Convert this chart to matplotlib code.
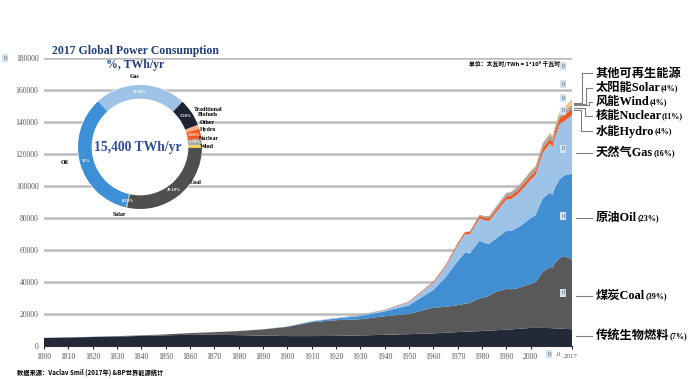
import matplotlib
matplotlib.use('Agg')
import matplotlib.pyplot as plt
import numpy as np
from matplotlib.patches import Circle

# ---- data (TWh/yr) ----
years = [1800, 1810, 1820, 1830, 1840, 1850, 1860, 1870, 1880, 1890,
         1900, 1910, 1920, 1930, 1940, 1950, 1960,
         1965, 1970, 1973, 1975, 1979, 1981, 1983, 1985,
         1990, 1992, 1995, 2000, 2002, 2005, 2008, 2009, 2010, 2012, 2014, 2017]

biofuels = [5000, 5300, 5600, 5900, 6300, 6700, 7000, 7000, 6800, 6500,
            6200, 6200, 6300, 6600, 7000, 7400, 7900,
            8300, 8700, 8900, 9000, 9300, 9500, 9600, 9800,
            10200, 10400, 10700, 11300, 11300, 11300, 11200, 11100, 11000, 10900, 10700, 10500]
coal = [97, 128, 153, 264, 356, 569, 1061, 1642, 2542, 3856,
        5728, 8656, 9833, 10125, 11586, 12603, 16114,
        16139, 16800, 17500, 17900, 20500, 20900, 21800, 23500,
        25700, 25000, 25500, 27500, 28500, 35000, 38200, 37800, 41000, 44000, 45500, 43400]
oil = [0, 0, 0, 0, 0, 0, 3, 6, 33, 89,
       181, 494, 1097, 2050, 3050, 5444, 11000,
       18500, 27500, 31900, 31000, 36000, 34000, 32500, 33000,
       36000, 36500, 38000, 41000, 42000, 46000, 46500, 45500, 47000, 49500, 50500, 53700]
gas = [0, 0, 0, 0, 0, 0, 0, 0, 0, 0,
       64, 178, 233, 553, 875, 2092, 4472,
       6500, 10000, 11500, 12000, 14000, 14200, 14300, 15800,
       19500, 20000, 21000, 24000, 25000, 28500, 30700, 30000, 31600, 34500, 34000, 36700]
hydro = [0, 0, 0, 0, 0, 0, 0, 0, 0, 0,
         0, 20, 60, 120, 190, 330, 690,
         900, 1150, 1300, 1400, 1600, 1700, 1750, 1800,
         2100, 2200, 2400, 2600, 2650, 2850, 3100, 3200, 3400, 3600, 3850, 4059]
nuclear = [0] * 17 + [30, 80, 200, 380, 700, 850, 1300, 1500,
                      2000, 2050, 2300, 2550, 2600, 2750, 2700, 2550, 2650, 2450, 2500, 2636]
wind = [0] * 28 + [31, 52, 104, 220, 275, 342, 520, 700, 1131]
solar = [0] * 28 + [1, 2, 4, 12, 20, 32, 100, 190, 444]
other = [0] * 24 + [150, 250, 280, 330, 500, 550, 650, 800, 850, 950, 1150, 1350, 1614]

area_colors = ['#222a38', '#595959', '#418fd2', '#9dc3e6', '#f15a24',
               '#a5a5a5', '#ffd24d', '#a9d18e', '#f4b183']

# donut (2017 shares)
pie_names = ['Gas', 'Traditional\nBiofuels', 'Other', 'Hydro', 'Nuclear', 'Wind', 'Coal', 'Solar', 'Oil']
pie_share = [23.8, 7.2, 1.04, 2.6, 1.7, 0.73, 28.1, 0.29, 34.54]
pie_pct = ['23.80%', '7.20%', '', '2.60%', '1.70%', '', '28.10%', '0.29%', '35%']
pie_colors = ['#9dc3e6', '#1c2433', '#f4b183', '#f15a24', '#a5a5a5', '#ffd24d', '#4f4f4f', '#a9d18e', '#3d8fd6']

right_labels = [('其他可再生能源', '', 74), ('太阳能Solar', '(4%)', 88), ('风能Wind', '(4%)', 102),
                ('核能Nuclear', '(11%)', 116), ('水能Hydro', '(4%)', 131), ('天然气Gas', '(16%)', 153),
                ('原油Oil', '(23%)', 218), ('煤炭Coal', '(39%)', 296), ('传统生物燃料', '(7%)', 336)]

W, H = 688, 379
serif = ['Liberation Serif', 'Noto Sans CJK SC', 'DejaVu Sans']
plt.rcParams['font.family'] = serif


def px(x, y):
    return x / W, 1 - y / H


fig = plt.figure(figsize=(W / 100, H / 100), dpi=100)
ax = fig.add_axes([44 / W, 1 - 346 / H, (572 - 44) / W, (346 - 58) / H])

ax.stackplot(years, biofuels, coal, oil, gas, hydro, nuclear, wind, solar, other,
             colors=area_colors, linewidth=0, zorder=3)
ax.set_xlim(1800, 2017)
ax.set_ylim(0, 180000)
ax.set_yticks(np.arange(0, 180001, 20000))
ax.set_yticklabels([str(v) for v in range(0, 180001, 20000)], fontsize=5.5, color='#595959')
ax.grid(axis='y', color='#bcbcbc', linewidth=1.8, zorder=0)
ax.set_axisbelow(True)
ticks = list(range(1800, 2001, 10)) + [2017]
ax.set_xticks(ticks)
ax.set_xticklabels([str(t) for t in ticks[:-1]] + [''], fontsize=5.5, color='#595959')
ax.tick_params(axis='y', length=0, pad=4)
ax.tick_params(axis='x', length=2, width=0.8, color='#222222', pad=3)
for s in ['top', 'right', 'left']:
    ax.spines[s].set_visible(False)
ax.spines['bottom'].set_color('#333333')
ax.spines['bottom'].set_linewidth(0.8)

box = dict(boxstyle='square,pad=0.25', fc='#cfe2f3', ec='none')
fig.text(*px(571, 356), '2017', fontsize=5, color='#595959', ha='center', va='center')
fig.text(*px(558, 354), '.0', fontsize=5, color='#595959', ha='center', va='center')
fig.text(*px(549, 354), '0', fontsize=5, color='#595959', ha='center', va='center', bbox=box)
fig.text(*px(5, 58), '0', fontsize=5, color='#595959', ha='center', va='center', bbox=box)

# unit note
fig.text(*px(560, 64), '单位：太瓦时/TWh = 1*10⁹ 千瓦时', fontsize=4.2, fontweight='bold',
         ha='right', va='center', family=['Noto Sans CJK SC', 'DejaVu Sans'])
for yy in [66, 84, 98, 111, 149, 216, 293]:
    fig.text(*px(563, yy), '0', fontsize=5, color='#595959', ha='center', va='center', bbox=box)

# right side labels
fig.canvas.draw()
for (cn, pct, yy) in right_labels:
    t = fig.text(*px(596, yy), cn, fontsize=8.8, fontweight='bold', ha='left', va='center')
    if pct:
        bb = t.get_window_extent(renderer=fig.canvas.get_renderer())
        fig.text(bb.x1 / W, 1 - yy / H, pct, fontsize=5.8, fontweight='bold', ha='left', va='center')

lc = '#7f7f7f'
for yy in [153, 218, 296, 336]:
    fig.add_artist(plt.Line2D([px(576, 0)[0], px(592, 0)[0]], [px(0, yy)[1]] * 2, color=lc, lw=0.8))
brackets = [(103, 582, 73), (104, 586, 88), (105, 589, 102), (108, 585, 116), (110, 581, 131)]
for y0, xm, y1 in brackets:
    xs = [574, xm, xm, 592]
    ys = [y0, y0, y1, y1]
    fig.add_artist(plt.Line2D([x / W for x in xs], [1 - y / H for y in ys], color=lc, lw=0.8))

# donut inset
cx, cy, r = 140, 147, 62
pax = fig.add_axes([(cx - r) / W, 1 - (cy + r) / H, 2 * r / W, 2 * r / H])
pax.axis('off')
pax.add_patch(Circle((0, 0), 1, color='white', zorder=0))
wedges, _ = pax.pie(pie_share, colors=pie_colors, startangle=132.5, counterclock=False,
                    radius=1, wedgeprops=dict(width=0.22, linewidth=0))
pax.set_xlim(-1, 1)
pax.set_ylim(-1, 1)
for w, lab in zip(wedges, pie_pct):
    if not lab:
        continue
    ang = np.deg2rad((w.theta1 + w.theta2) / 2)
    pax.text(0.89 * np.cos(ang), 0.89 * np.sin(ang), lab, fontsize=3.2, color='white',
             fontweight='bold', ha='center', va='center')

pie_label_pos = {'Gas': (135, 77), 'Traditional\nBiofuels': (208, 112), 'Other': (207, 123),
                 'Hydro': (208, 130), 'Nuclear': (209, 138), 'Wind': (207, 146),
                 'Coal': (196, 182), 'Solar': (119, 214), 'Oil': (65, 163)}
for name in pie_names:
    x, y = pie_label_pos[name]
    fig.text(*px(x, y), name, fontsize=4.2, fontweight='bold', ha='center', va='center',
             linespacing=1.1)

fig.text(*px(138, 147), '15,400 TWh/yr', fontsize=9.8, fontweight='bold', color='#2f4ea0',
         ha='center', va='center')
fig.text(*px(135, 51), '2017 Global Power Consumption', fontsize=8.5, fontweight='bold',
         color='#203f7a', ha='center', va='center')
fig.text(*px(135, 65), '%, TWh/yr', fontsize=8.5, fontweight='bold', color='#203f7a',
         ha='center', va='center')

fig.text(*px(17, 372), '数据来源：Vaclav Smil (2017年) &BP世界能源统计', fontsize=4.5,
         fontweight='bold', ha='left', va='center', family=['Noto Sans CJK SC', 'DejaVu Sans'])

fig.savefig('out.png', dpi=100)
